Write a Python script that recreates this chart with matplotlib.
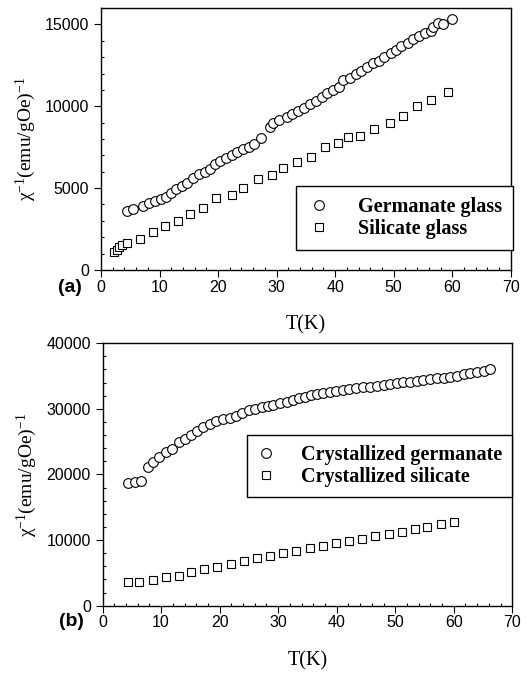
import matplotlib
matplotlib.use('Agg')
import matplotlib.pyplot as plt
from matplotlib.ticker import MultipleLocator

plt.rcParams['font.family'] = 'Liberation Sans'
plt.rcParams['mathtext.fontset'] = 'custom'
plt.rcParams['mathtext.rm'] = 'Liberation Serif'
plt.rcParams['mathtext.it'] = 'Liberation Serif:italic'

# (a) glasses
germ_T = [4.4, 5.5, 7.2, 8.25, 9.2, 10.2, 11.1, 12.0, 12.8, 13.8, 14.7, 15.8, 16.7, 17.7,
          18.6, 19.5, 20.4, 21.3, 22.3, 23.2, 24.2, 25.2, 26.1, 27.4, 28.9, 29.4, 30.4,
          31.7, 32.7, 33.7, 34.7, 35.7, 36.7, 37.7, 38.6, 39.7, 40.7, 41.4, 42.5, 43.5,
          44.5, 45.5, 46.5, 47.5, 48.4, 49.5, 50.4, 51.3, 52.4, 53.3, 54.3, 55.3, 56.3,
          56.8, 57.6, 58.4, 59.9]
germ_inv = [3600, 3700, 3930, 4070, 4210, 4320, 4480, 4720, 4930, 5130, 5330, 5600, 5840, 6000,
            6150, 6470, 6650, 6820, 7020, 7180, 7370, 7530, 7690, 8040, 8750, 8950, 9160,
            9320, 9520, 9710, 9910, 10110, 10340, 10540, 10790, 10990, 11190, 11600, 11740, 11950,
            12170, 12370, 12620, 12780, 12990, 13230, 13430, 13680, 13880, 14080, 14290, 14450, 14610,
            14860, 15060, 15020, 15320]

sil_T = [2.2, 2.7, 3.1, 3.6, 4.4, 6.7, 8.8, 11.0, 13.2, 15.2, 17.5, 19.6, 22.4, 24.2, 26.8,
         29.2, 31.1, 33.4, 35.9, 38.2, 40.5, 42.2, 44.2, 46.6, 49.3, 51.6, 54.0, 56.3, 59.3]
sil_inv = [1080, 1220, 1385, 1510, 1630, 1890, 2320, 2690, 3010, 3420, 3800, 4370, 4580, 4990, 5560,
           5780, 6250, 6570, 6900, 7530, 7730, 8140, 8180, 8610, 8950, 9400, 10010, 10380, 10890]

# (b) crystallized
cgerm_T = [4.4, 5.6, 6.6, 7.7, 8.7, 9.7, 10.9, 11.8, 13.1, 14.1, 15.1, 16.2, 17.2, 18.4, 19.4,
           20.5, 21.7, 22.8, 23.9, 25.0, 26.1, 27.2, 28.2, 29.2, 30.3, 31.5, 32.6, 33.5, 34.6,
           35.6, 36.6, 37.7, 38.8, 39.9, 41.0, 42.1, 43.3, 44.5, 45.7, 46.9, 48.0, 49.1, 50.3,
           51.4, 52.6, 53.7, 54.8, 56.0, 57.1, 58.3, 59.4, 60.5, 61.7, 62.8, 64.0, 65.1, 66.2]
cgerm_inv = [18690, 18840, 18930, 21120, 21880, 22730, 23400, 23950, 25010, 25380, 26040, 26650,
             27210, 27710, 28170, 28480, 28580, 28930, 29440, 29850, 30000, 30260, 30500, 30610,
             30870, 31110, 31370, 31630, 31880, 32130, 32280, 32480, 32630, 32790, 32890, 33040,
             33150, 33300, 33400, 33500, 33650, 33810, 33910, 34060, 34160, 34310, 34420, 34570,
             34670, 34770, 34920, 35070, 35330, 35530, 35680, 35830, 36040]

csil_T = [4.4, 6.2, 8.7, 10.9, 13.0, 15.1, 17.4, 19.6, 21.9, 24.1, 26.4, 28.6, 30.8, 33.1, 35.4,
          37.6, 39.9, 42.1, 44.4, 46.6, 48.9, 51.1, 53.3, 55.5, 57.9, 60.1]
csil_inv = [3550, 3550, 3960, 4310, 4570, 5070, 5590, 5830, 6350, 6750, 7200, 7610, 7960, 8380, 8730,
            9140, 9550, 9850, 10200, 10550, 10860, 11160, 11680, 11980, 12440, 12690]

ylabel = 'χ$^{-1}$(emu/gOe)$^{-1}$'


def setup_axes(ax, ymax, ymajor, yminor):
    ax.set_xlim(0, 70)
    ax.set_ylim(0, ymax)
    ax.xaxis.set_major_locator(MultipleLocator(10))
    ax.xaxis.set_minor_locator(MultipleLocator(2))
    ax.yaxis.set_major_locator(MultipleLocator(ymajor))
    ax.yaxis.set_minor_locator(MultipleLocator(yminor))
    ax.tick_params(which='major', direction='out', length=5, width=0.8, labelsize=11.5)
    ax.tick_params(which='minor', direction='in', length=2.5, width=0.8)
    ax.tick_params(axis='x', pad=2)
    for s in ax.spines.values():
        s.set_linewidth(1.0)
    ax.set_xlabel('T(K)', family='Liberation Serif', fontsize=14.5, labelpad=15)
    ax.set_ylabel(ylabel, family='Liberation Serif', fontsize=14, labelpad=5)


fig = plt.figure(figsize=(5.26, 6.73), dpi=100)
ax1 = fig.add_axes([0.192, 0.599, 0.779, 0.389])
ax2 = fig.add_axes([0.195, 0.100, 0.779, 0.390])

mk = dict(linestyle='none', markerfacecolor='white', markeredgecolor='black', markeredgewidth=0.8)

ax1.plot(germ_T, germ_inv, marker='o', markersize=7, label='Germanate glass', **mk)
ax1.plot(sil_T, sil_inv, marker='s', markersize=6, label='Silicate glass', **mk)
setup_axes(ax1, 16000, 5000, 1000)
leg1 = ax1.legend(loc='lower right', bbox_to_anchor=(1.005, 0.076), borderaxespad=0,
                  prop={'family': 'Liberation Serif', 'weight': 'bold', 'size': 14.5},
                  fancybox=False, edgecolor='black', framealpha=1, handletextpad=1.3,
                  borderpad=0.55, labelspacing=0.1, handlelength=1.2)
leg1.get_frame().set_linewidth(1.0)

ax2.plot(cgerm_T, cgerm_inv, marker='o', markersize=7, label='Crystallized germanate', **mk)
ax2.plot(csil_T, csil_inv, marker='s', markersize=6, label='Crystallized silicate', **mk)
setup_axes(ax2, 40000, 10000, 2000)
leg2 = ax2.legend(loc='lower right', bbox_to_anchor=(1.0, 0.415), borderaxespad=0,
                  prop={'family': 'Liberation Serif', 'weight': 'bold', 'size': 14.5},
                  fancybox=False, edgecolor='black', framealpha=1, handletextpad=1.3,
                  borderpad=0.5, labelspacing=0.1, handlelength=0.9)
leg2.get_frame().set_linewidth(1.0)

fig.text(0.133, 1 - 287 / 673, '(a)', fontsize=14, fontweight='bold', ha='center', va='center')
fig.text(0.136, 1 - 621 / 673, '(b)', fontsize=14, fontweight='bold', ha='center', va='center')

fig.savefig('out.png', dpi=100)
